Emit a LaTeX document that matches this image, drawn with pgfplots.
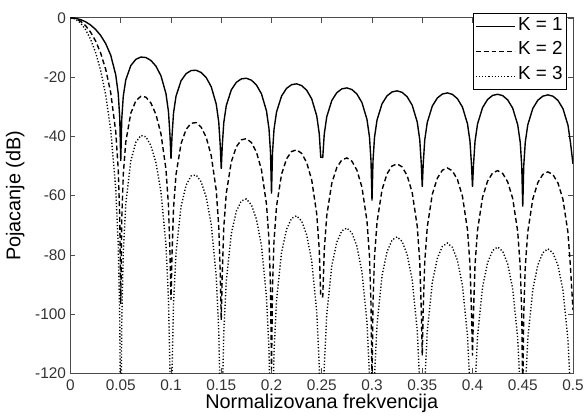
\documentclass[border=0pt]{standalone}
\usepackage{pgfplots}
\pgfplotsset{compat=1.18}
\usepackage{pgfplotstable}
\usepackage{fontspec}
\setmainfont{Liberation Sans}

% gain in dB of the three filters (K = 1, 2, 3)
\pgfplotstableread{
f      k1      k2      k3
0      0       0       0
0.0025 -0.03   -0.06   -0.09
0.005  -0.14   -0.28   -0.42
0.01   -0.58   -1.16   -1.74
0.015  -1.32   -2.64   -3.96
0.02   -2.41   -4.82   -7.23
0.025  -3.91   -7.82   -11.73
0.03   -5.93   -11.86  -17.79
0.035  -8.67   -17.34  -26.01
0.04   -12.60  -25.20  -37.80
0.045  -19.20  -38.40  -57.60
0.0475 -25.58  -51.16  -76.74
0.049  -33.76  -67.52  -101.28
0.05   -48.3   -96.6   -144.9
0.051  -34.11  -68.22  -102.33
0.0525 -26.44  -52.88  -79.32
0.055  -20.93  -41.86  -62.79
0.06   -16.09  -32.18  -48.27
0.065  -14.00  -28.00  -42.00
0.07   -13.23  -26.46  -39.69
0.075  -13.38  -26.76  -40.14
0.08   -14.37  -28.74  -43.11
0.085  -16.29  -32.58  -48.87
0.09   -19.55  -39.10  -58.65
0.095  -25.59  -51.18  -76.77
0.0975 -31.72  -63.44  -95.16
0.099  -39.78  -79.56  -119.34
0.1    -47.6   -95.2   -142.8
0.101  -39.94  -79.88  -119.82
0.1025 -32.14  -64.28  -96.42
0.105  -26.43  -52.86  -79.29
0.11   -21.23  -42.46  -63.69
0.115  -18.83  -37.66  -56.49
0.12   -17.78  -35.56  -53.34
0.125  -17.68  -35.36  -53.04
0.13   -18.44  -36.88  -55.32
0.135  -20.15  -40.30  -60.45
0.14   -23.22  -46.44  -69.66
0.145  -29.09  -58.18  -87.27
0.1475 -35.14  -70.28  -105.42
0.149  -43.15  -86.30  -129.45
0.15   -51.0   -102.0  -153.0
0.151  -43.25  -86.50  -129.75
0.1525 -35.40  -70.80  -106.20
0.155  -29.62  -59.24  -88.86
0.16   -24.29  -48.58  -72.87
0.165  -21.76  -43.52  -65.28
0.17   -20.59  -41.18  -61.77
0.175  -20.38  -40.76  -61.14
0.18   -21.04  -42.08  -63.12
0.185  -22.65  -45.30  -67.95
0.19   -25.63  -51.26  -76.89
0.195  -31.41  -62.82  -94.23
0.1975 -37.42  -74.84  -112.26
0.199  -45.40  -90.80  -136.20
0.2    -59.3   -118.6  -177.9
0.201  -45.48  -90.96  -136.44
0.2025 -37.61  -75.22  -112.83
0.205  -31.79  -63.58  -95.37
0.21   -26.39  -52.78  -79.17
0.215  -23.78  -47.56  -71.34
0.22   -22.55  -45.10  -67.65
0.225  -22.27  -44.54  -66.81
0.23   -22.87  -45.74  -68.61
0.235  -24.42  -48.84  -73.26
0.24   -27.35  -54.70  -82.05
0.245  -33.07  -66.14  -99.21
0.2475 -39.05  -78.10  -117.15
0.249  -47.02  -94.04  -141.06
0.251  -47.08  -94.16  -141.24
0.2525 -39.19  -78.38  -117.57
0.255  -33.35  -66.70  -100.05
0.26   -27.89  -55.78  -83.67
0.265  -25.24  -50.48  -75.72
0.27   -23.96  -47.92  -71.88
0.275  -23.64  -47.28  -70.92
0.28   -24.19  -48.38  -72.57
0.285  -25.71  -51.42  -77.13
0.29   -28.59  -57.18  -85.77
0.295  -34.28  -68.56  -102.84
0.2975 -40.24  -80.48  -120.72
0.299  -48.20  -96.40  -144.60
0.3    -61.7   -123.4  -185.1
0.301  -48.24  -96.48  -144.72
0.3025 -40.34  -80.68  -121.02
0.305  -34.48  -68.96  -103.44
0.31   -28.99  -57.98  -86.97
0.315  -26.30  -52.60  -78.90
0.32   -24.99  -49.98  -74.97
0.325  -24.64  -49.28  -73.92
0.33   -25.15  -50.30  -75.45
0.335  -26.64  -53.28  -79.92
0.34   -29.49  -58.98  -88.47
0.345  -35.15  -70.30  -105.45
0.3475 -41.09  -82.18  -123.27
0.349  -49.06  -98.12  -147.18
0.35   -57.0   -114.0  -171.0
0.351  -49.06  -98.12  -147.18
0.3525 -41.16  -82.32  -123.48
0.355  -35.29  -70.58  -105.87
0.36   -29.77  -59.54  -89.31
0.365  -27.06  -54.12  -81.18
0.37   -25.71  -51.42  -77.13
0.375  -25.33  -50.66  -75.99
0.38   -25.82  -51.64  -77.46
0.385  -27.28  -54.56  -81.84
0.39   -30.11  -60.22  -90.33
0.395  -35.74  -71.48  -107.22
0.3975 -41.67  -83.34  -125.01
0.399  -49.62  -99.24  -148.86
0.4    -57.0   -114.0  -171.0
0.401  -49.62  -99.24  -148.86
0.4025 -41.72  -83.44  -125.16
0.405  -35.83  -71.66  -107.49
0.41   -30.29  -60.58  -90.87
0.415  -27.55  -55.10  -82.65
0.42   -26.18  -52.36  -78.54
0.425  -25.78  -51.56  -77.34
0.43   -26.25  -52.50  -78.75
0.435  -27.68  -55.36  -83.04
0.44   -30.48  -60.96  -91.44
0.445  -36.09  -72.18  -108.27
0.4475 -42.01  -84.02  -126.03
0.449  -49.95  -99.90  -149.85
0.45   -63.7   -127.4  -191.1
0.451  -49.95  -99.90  -149.85
0.4525 -42.03  -84.06  -126.09
0.455  -36.13  -72.26  -108.39
0.46   -30.57  -61.14  -91.71
0.465  -27.81  -55.62  -83.43
0.47   -26.42  -52.84  -79.26
0.475  -25.99  -51.98  -77.97
0.48   -26.44  -52.88  -79.32
0.485  -27.85  -55.70  -83.55
0.49   -30.63  -61.26  -91.89
0.495  -36.22  -72.44  -108.66
0.4975 -42.14  -84.28  -126.42
0.5    -49.3   -98.6   -147.9
}\gaintable

\begin{document}
\begin{tikzpicture}
\begin{axis}[
  width=506pt, height=358pt, scale only axis,
  xmin=0, xmax=0.5, ymin=-120, ymax=0,
  xtick={0,0.05,0.1,0.15,0.2,0.25,0.3,0.35,0.4,0.45,0.5},
  xticklabels={0,0.05,0.1,0.15,0.2,0.25,0.3,0.35,0.4,0.45,0.5},
  ytick={-120,-100,-80,-60,-40,-20,0},
  yticklabels={-120,-100,-80,-60,-40,-20,0},
  scaled ticks=false,
  tick align=inside,
  major tick length=5pt,
  axis line style={black!70, line width=0.8pt},
  tick style={black!70, line width=0.6pt},
  tick label style={font=\fontsize{15.5}{17}\selectfont, text=black!80},
  xticklabel style={yshift=-3pt},
  yticklabel style={xshift=-1pt},
  xlabel={Normalizovana frekvencija},
  ylabel={Pojacanje (dB)},
  label style={font=\fontsize{20}{23}\selectfont},
  xlabel style={at={(axis description cs:0.5,-0.083)}, anchor=center},
  ylabel style={at={(axis description cs:-0.11,0.5)}, anchor=center},
  legend style={at={(axis description cs:0.988,1.014)}, anchor=north east,
    draw=black, line width=0.8pt, fill=white,
    font=\fontsize{19}{21}\selectfont,
    inner xsep=2pt, inner ysep=1pt,
    nodes={inner sep=2pt, text height=14pt, text depth=7pt}},
  legend cell align=left,
  legend image code/.code={\draw[#1] (0pt,0pt) -- (40pt,0pt);},
]
\addplot[black, line width=1.4pt] table[x=f, y=k1] {\gaintable};
\addplot[black, line width=1.4pt, dash pattern=on 5pt off 3pt] table[x=f, y=k2] {\gaintable};
\addplot[black, line width=1.4pt, dash pattern=on 1.2pt off 2pt] table[x=f, y=k3] {\gaintable};
\legend{K = 1, K = 2, K = 3}
\end{axis}
\path (current axis.south west) ++(-71pt,-40pt) rectangle ++(587pt,416pt);
\end{tikzpicture}
\end{document}
